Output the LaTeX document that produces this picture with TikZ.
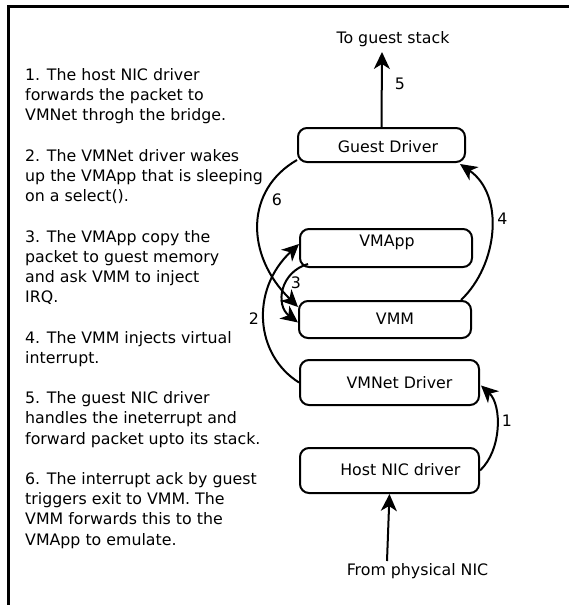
\documentclass[tikz,border=0pt]{standalone}
\usepackage{fontspec}
\setmainfont{DejaVu Sans}
\usetikzlibrary{arrows.meta}
\begin{document}
\begin{tikzpicture}[x=1pt,y=-1pt,
  every node/.style={font=\fontsize{15.8pt}{19pt}\selectfont, inner sep=0pt},
  box/.style={draw, line width=2pt, rounded corners=9pt},
  arr/.style={line width=2pt, -{Stealth[length=17pt,width=16pt,inset=5pt]}},
  lbl/.style={anchor=base}]
\useasboundingbox (0,0) rectangle (568,605);
% frame
\draw[line width=2.5pt] (8.7,606) -- (8.7,6.5) -- (569,6.5);
% left text
\foreach \i/\t in {0/1. The host NIC driver, 1/forwards the packet to, 2/VMNet throgh the bridge.,
  4/2. The VMNet driver wakes, 5/up the VMApp that is sleeping, 6/on a select().,
  8/3. The VMApp copy the, 9/packet to guest memory, 10/and ask VMM to inject, 11/IRQ.,
  13/4. The VMM injects virtual, 14/interrupt.,
  16/5. The guest NIC driver, 17/handles the ineterrupt and, 18/forward packet upto its stack.,
  20/6. The interrupt ack by guest, 21/triggers exit to VMM. The, 22/VMM forwards this to the, 23/VMApp to emulate.}
  \node[anchor=base west] (line\i) at (25,{80.5+20.2*\i}) {\t};
% boxes
\node[box, minimum width=167pt, minimum height=34pt] (gd) at (381.5,145) {};
\node[box, minimum width=172pt, minimum height=38pt] (vmapp) at (386,248) {};
\node[box, minimum width=172pt, minimum height=37pt] (vmm) at (385,319.5) {};
\node[box, minimum width=179pt, minimum height=45pt] (vmnet) at (389.5,382.5) {};
\node[box, minimum width=179pt, minimum height=45pt] (host) at (389.5,470.5) {};
% box texts
\node[lbl] (gdt) at (388,152.5) {Guest Driver};
\node[lbl] (vmappt) at (387,246.7) {VMApp};
\node[lbl] (vmmt) at (395,324.5) {VMM};
\node[lbl] (vmnett) at (399.5,388.5) {VMNet Driver};
\node[lbl] (hostt) at (400.3,475.5) {Host NIC driver};
% outer texts
\node[lbl] (tostack) at (393,43.3) {To guest stack};
\node[lbl] (fromnic) at (417.5,575) {From physical NIC};
\coordinate (nicstart) at (387,561);
% number labels
\node[lbl] (n5) at (400,89.3) {5};
\node[lbl] (n4) at (502.5,224) {4};
\node[lbl] (n6) at (277,205.7) {6};
\node[lbl] (n3) at (296,288.5) {3};
\node[lbl] (n2) at (254,324) {2};
\node[lbl] (n1) at (507,426.7) {1};
% connectors
\draw[arr] (nicstart) -- (host.south);
\draw[arr] (host.east) .. controls (502,450) and (502,405) .. ([xshift=1pt,yshift=-3pt]vmnet.east);
\draw[arr] (vmnet.west) .. controls (255,355) and (250,290) .. ([yshift=4pt]vmapp.west);
\draw[arr] ([xshift=9pt,yshift=4pt]vmapp.south west) .. controls (280,272) and (275,305) .. ([yshift=-3pt]vmm.west);
\draw[arr] ([xshift=-11pt]vmm.north east) .. controls (498,265) and (505,195) .. ([xshift=-6pt,yshift=-1pt]gd.south east);
\draw[arr] ([yshift=3pt]gd.south west) .. controls (245,190) and (245,255) .. ([yshift=12.5pt]vmm.west);
\draw[arr] (gd.north) -- (382,52);
\end{tikzpicture}
\end{document}
